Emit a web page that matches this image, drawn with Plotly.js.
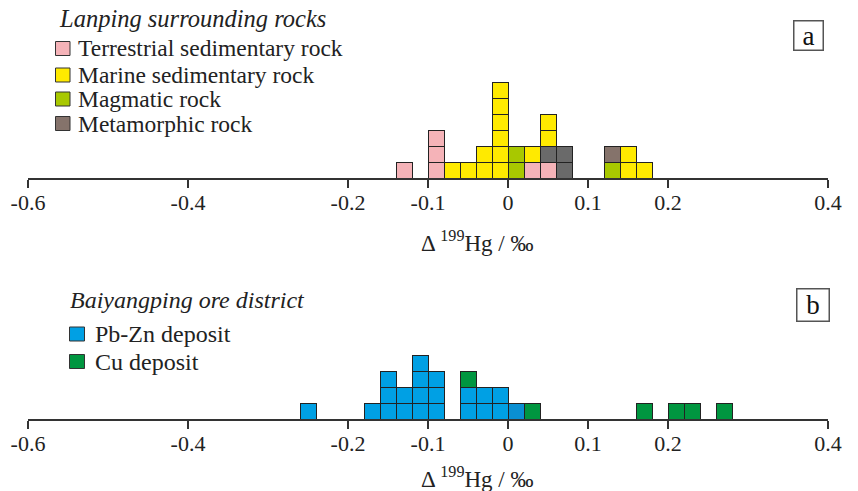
<!DOCTYPE html>
<html>
<head>
<meta charset="utf-8">
<script src="https://cdn.plot.ly/plotly-3.0.1.min.js"></script>
<style>html,body{margin:0;padding:0;background:#fff;}#chart{width:858px;height:491px;}</style>
</head>
<body>
<div id="chart"></div>
<script>
// ---- Data (bin centres, bin width 0.02 ‰; number of samples per bin) ----
const terrestrialX = [-0.13, -0.09, 0.03, 0.05];
const terrestrialN = [1, 3, 1, 1];
const magmaticX = [0.01, 0.13];
const magmaticN = [2, 1];
const metamorphicX = [0.05, 0.07, 0.13];
const metamorphicN = [1, 2, 1];
const marineX = [-0.07, -0.05, -0.03, -0.01, 0.03, 0.05, 0.15, 0.17];
const marineN = [1, 1, 2, 6, 1, 2, 2, 1];

const pbznX = [-0.25, -0.17, -0.15, -0.13, -0.11, -0.09, -0.05, -0.03, -0.01, 0.01];
const pbznN = [1, 1, 3, 2, 4, 3, 2, 2, 2, 1];
const cuX = [-0.05, 0.03, 0.17, 0.21, 0.23, 0.27];
const cuN = [1, 1, 1, 1, 1, 1];

const tickVals = [-0.6, -0.4, -0.2, -0.1, 0, 0.1, 0.2, 0.4];
const tickText = ["-0.6", "-0.4", "-0.2", "-0.1", "0", "0.1", "0.2", "0.4"];

const legendA = ["Terrestrial sedimentary rock", "Marine sedimentary rock", "Magmatic rock", "Metamorphic rock"];
const legendB = ["Pb-Zn deposit", "Cu deposit"];

// ---- Styles ----
const C = {
  pink: '#f5b3b8', yellow: '#ffea00', magm: '#a8c800', meta: '#85736b', metaDark: '#6a6a6a',
  blue: '#00a0e4', blueDark: '#0a8fd2', green: '#009640', edge: '#222222'
};
const W = 858, H = 491, L = 28, R = 30;
const PW = W - L - R;
const px = v => (v - L) / PW;
const py = v => (H - v) / H;
const SERIF = '"Liberation Serif", "Times New Roman", serif';

// one unit box per sample, stacked within each bin
function bars(x, n, colorFn, name, xa, ya) {
  const xs = [], ys = [], cs = [];
  x.forEach((v, i) => { for (let k = 0; k < n[i]; k++) { xs.push(v); ys.push(1); cs.push(colorFn(i)); } });
  return {
    type: 'bar', x: xs, y: ys, name: name, xaxis: xa, yaxis: ya,
    width: 0.02, showlegend: false, hoverinfo: 'x+name',
    marker: { color: cs, line: { color: C.edge, width: 1 } }
  };
}

const traces = [
  bars(terrestrialX, terrestrialN, () => C.pink, legendA[0], 'x', 'y'),
  bars(magmaticX, magmaticN, () => C.magm, legendA[2], 'x', 'y'),
  bars(metamorphicX, metamorphicN, i => (i < 2 ? C.metaDark : C.meta), legendA[3], 'x', 'y'),
  bars(marineX, marineN, () => C.yellow, legendA[1], 'x', 'y'),
  bars(pbznX, pbznN, i => (i === pbznX.length - 1 ? C.blueDark : C.blue), legendB[0], 'x2', 'y2'),
  bars(cuX, cuN, () => C.green, legendB[1], 'x2', 'y2')
];

function xaxisDef(anchor) {
  return {
    anchor: anchor, domain: [0, 1], range: [-0.6, 0.4],
    showline: true, linecolor: '#333', linewidth: 1.5,
    ticks: 'outside', ticklen: 8, tickwidth: 1.5, tickcolor: '#333',
    tickvals: tickVals, ticktext: tickText, ticklabelstandoff: -4,
    showgrid: false, zeroline: false, fixedrange: true,
    tickfont: { family: SERIF, size: 22, color: '#222' }
  };
}
function yaxisDef(anchor, dom, rng) {
  return { anchor: anchor, domain: dom, range: rng, visible: false, fixedrange: true };
}

const annotations = [];
const shapes = [];
function label(text, xpx, ypx, size, italic, anchor) {
  annotations.push({
    xref: 'paper', yref: 'paper', x: px(xpx), y: py(ypx), text: text,
    showarrow: false, xanchor: anchor || 'left', yanchor: 'middle',
    font: { family: SERIF, size: size, color: '#222', style: italic ? 'italic' : 'normal' }
  });
}
function swatch(x0, y0, x1, y1, color) {
  shapes.push({ type: 'rect', xref: 'paper', yref: 'paper', x0: px(x0), x1: px(x1), y0: py(y1), y1: py(y0),
    fillcolor: color, line: { color: '#333', width: 1 } });
}
function panelTag(t, cx, cy, s) {
  annotations.push({
    xref: 'paper', yref: 'paper', x: px(cx), y: py(cy), text: t, showarrow: false,
    xanchor: 'center', yanchor: 'middle', width: s, height: s, borderpad: 0,
    bordercolor: '#555', borderwidth: 1.5, valign: 'middle',
    font: { family: SERIF, size: 27, color: '#111' }
  });
}

// Panel a legend
label('Lanping surrounding rocks', 57, 19, 24.5, true);
const colsA = [C.pink, C.yellow, C.magm, C.meta];
const rowsA = [48.5, 75, 99, 123.5];
legendA.forEach((t, i) => { swatch(55.5, rowsA[i] - 7, 70, rowsA[i] + 7, colsA[i]); label(t, 76, rowsA[i], 23.5, false); });
// Panel b legend
label('Baiyangping ore district', 68, 300, 24, true);
const colsB = [C.blue, C.green];
const rowsB = [334, 361.5];
legendB.forEach((t, i) => { swatch(69.5, rowsB[i] - 7, 84.5, rowsB[i] + 7, colsB[i]); label(t, 93, rowsB[i], 24, false); });

// Axis titles
label('Δ <sup>199</sup>Hg / ‰', 476.5, 241, 23, false, 'center');
label('Δ <sup>199</sup>Hg / ‰', 476.5, 477, 23, false, 'center');

// Panel tags
panelTag('a', 808.5, 35, 28);
panelTag('b', 813, 305, 31);

const layout = {
  width: W, height: H, margin: { l: L, r: R, t: 0, b: 0 },
  paper_bgcolor: '#fff', plot_bgcolor: 'rgba(0,0,0,0)',
  barmode: 'stack', bargap: 0, showlegend: false,
  xaxis: xaxisDef('y'),
  yaxis: yaxisDef('x', [py(178), py(74)], [0, 6.5]),
  xaxis2: xaxisDef('y2'),
  yaxis2: yaxisDef('x2', [py(419), py(347)], [0, 4.5]),
  annotations: annotations, shapes: shapes,
  font: { family: SERIF }
};

Plotly.newPlot('chart', traces, layout, { staticPlot: true, displayModeBar: false });
</script>
</body>
</html>
